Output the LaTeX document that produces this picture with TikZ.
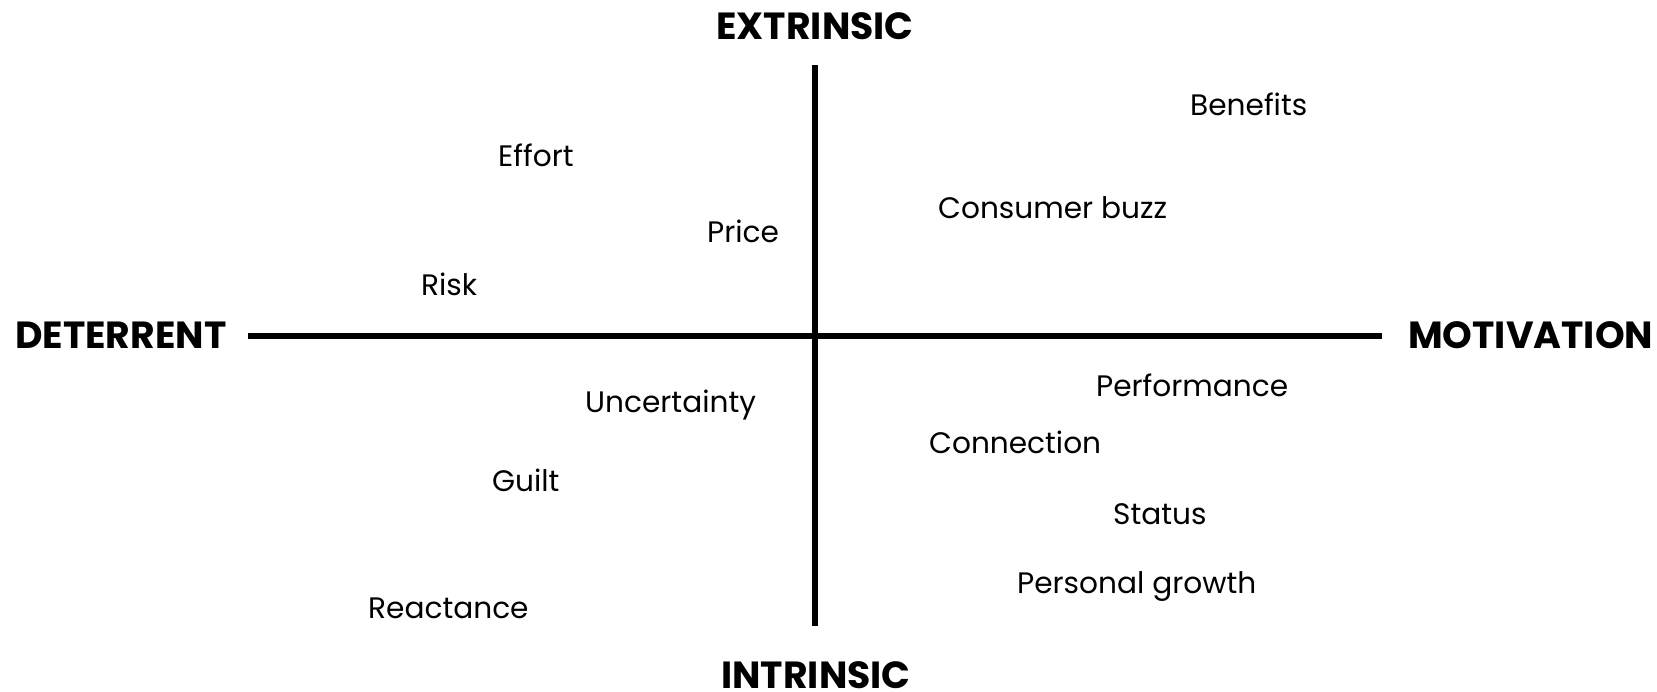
\documentclass[tikz,border=0pt]{standalone}
\usepackage{fontspec}
\setmainfont{Poppins}
\begin{document}
\begin{tikzpicture}[x=1pt,y=-1pt,
  axis/.style={line width=5.2pt},
  pole/.style={inner sep=0pt,font=\fontsize{37.8}{40}\selectfont\bfseries},
  factor/.style={inner sep=0pt,anchor=base west,font=\fontsize{29.6}{34}\selectfont}]
\useasboundingbox (0,0) rectangle (1657,692);
% axes
\coordinate (top) at (815,65);
\coordinate (bottom) at (815,626);
\coordinate (left) at (248,336);
\coordinate (right) at (1382,336);
\draw[axis] (top) -- (bottom);
\draw[axis] (left) -- (right);
% pole labels
\node[pole,anchor=base] (extr) at (815,40) {EXTRINSIC};
\node[pole,anchor=base] (intr) at (816,688) {INTRINSIC};
\node[pole,anchor=base west] (det) at (15,349) {DETERRENT};
\node[pole,anchor=base west] (mot) at (1408,349) {MOTIVATION};
% factors
\node[factor] (benefits) at (1190,116) {Benefits};
\node[factor] (effort) at (498,167) {Effort};
\node[factor] (buzz) at (938,219) {Consumer buzz};
\node[factor] (price) at (707,243) {Price};
\node[factor] (risk) at (421,296) {Risk};
\node[factor] (perf) at (1096,396) {Performance};
\node[factor] (uncert) at (585,412) {Uncertainty};
\node[factor] (conn) at (929,453) {Connection};
\node[factor] (guilt) at (492,491) {Guilt};
\node[factor] (status) at (1113,524) {Status};
\node[factor] (growth) at (1017,593) {Personal growth};
\node[factor] (react) at (368,618) {Reactance};
\end{tikzpicture}
\end{document}
